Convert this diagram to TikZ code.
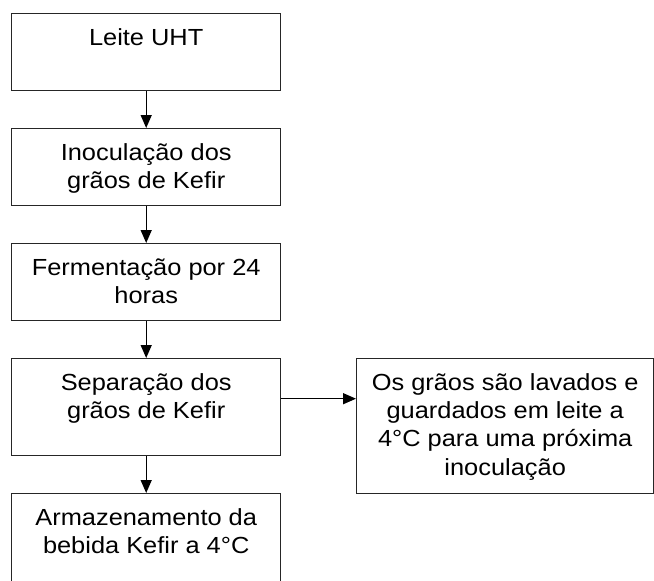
\documentclass[tikz,border=0pt]{standalone}
\usepackage{fontspec}
\setmainfont[FakeStretch=1.09]{Liberation Sans}
\usetikzlibrary{arrows.meta}
\begin{document}
\begin{tikzpicture}[x=1pt,y=-1pt,
  box/.style={draw=black!85, line width=1.4pt, minimum width=269pt, inner sep=0pt, anchor=north west},
  txt/.style={font=\fontsize{23.3}{28.4}\selectfont, align=center, anchor=base, inner sep=0pt},
  arr/.style={line width=1.4pt, -{Triangle[length=13pt,width=11pt]}}]
\useasboundingbox (0,0) rectangle (654,581);
\node[box, minimum height=77pt] (b1) at (11,13) {};
\node[box, minimum height=77pt] (b2) at (11,128) {};
\node[box, minimum height=77pt] (b3) at (11,243) {};
\node[box, minimum height=97pt] (b4) at (11,358) {};
\node[box, minimum height=100pt] (b5) at (11,493) {};
\node[box, minimum width=297pt, minimum height=135pt] (r) at (356,358) {};
\node[txt] (t1) at ([yshift=-32pt]b1.north) {Leite UHT};
\node[txt] (t2) at ([yshift=-60.4pt]b2.north) {Inoculação dos\\grãos de Kefir};
\node[txt] (t3) at ([yshift=-60.4pt]b3.north) {Fermentação por 24\\horas};
\node[txt] (t4) at ([yshift=-60.4pt]b4.north) {Separação dos\\grãos de Kefir};
\node[txt] (t5) at ([yshift=-60.4pt]b5.north) {Armazenamento da\\bebida Kefir a 4°C};
\node[txt] (tr) at ([yshift=-117.2pt]r.north) {Os grãos são lavados e\\guardados em leite a\\4°C para uma próxima\\inoculação};
\draw[arr] (b1.south) -- (b2.north);
\draw[arr] (b2.south) -- (b3.north);
\draw[arr] (b3.south) -- (b4.north);
\draw[arr] (b4.south) -- (b5.north);
\draw[arr] ([yshift=8.5pt]b4.east) -- ([yshift=8.5pt]b4.east -| r.west);
\end{tikzpicture}
\end{document}
